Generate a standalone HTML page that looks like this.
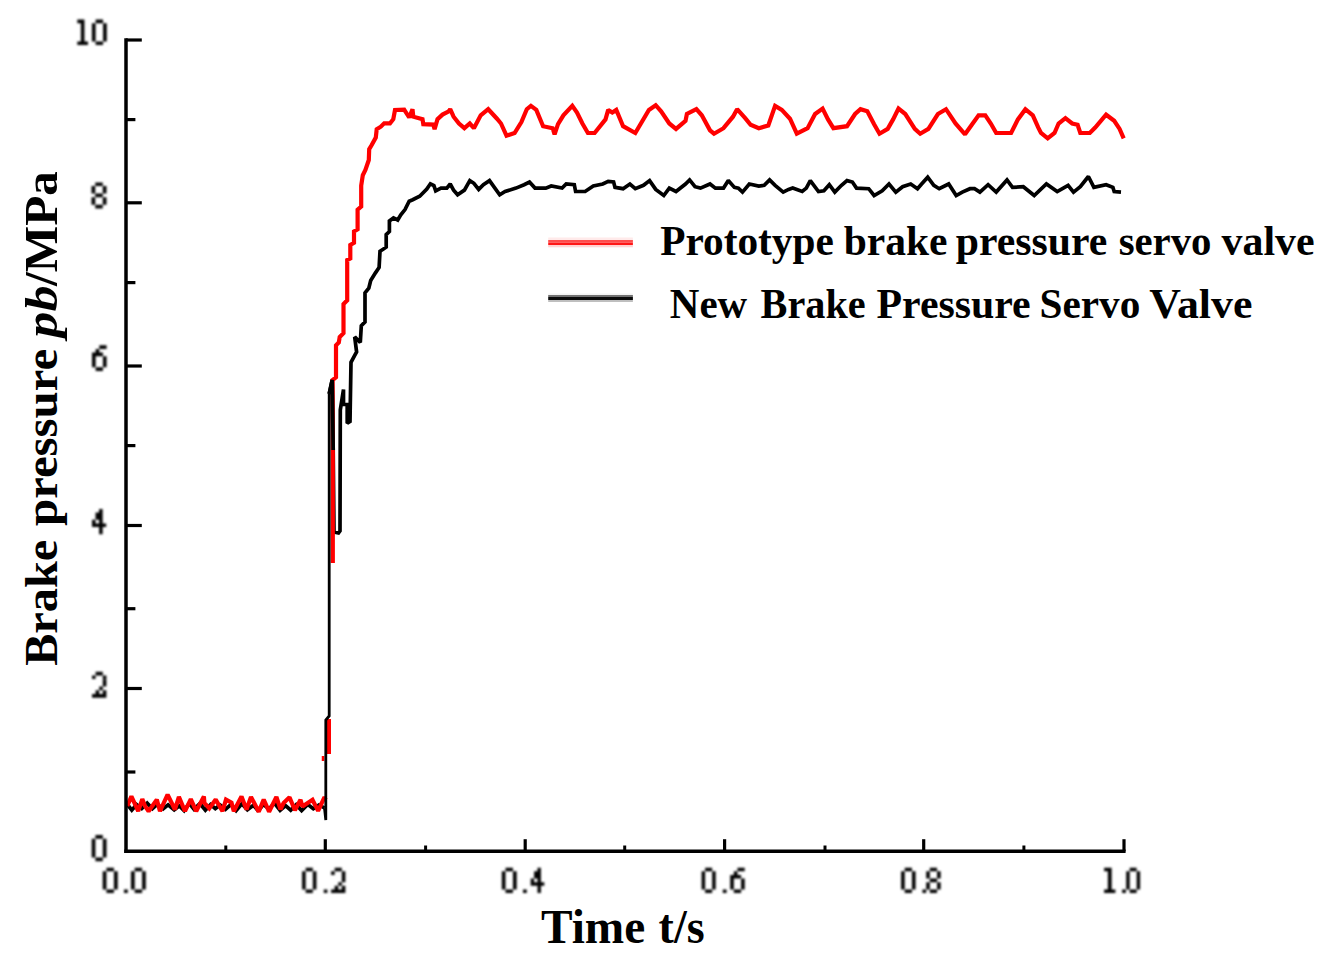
<!DOCTYPE html>
<html><head><meta charset="utf-8"><title>Brake pressure chart</title>
<style>html,body{margin:0;padding:0;background:#fff;overflow:hidden}svg{display:block}text{fill:#000}</style>
</head><body>
<svg width="1327" height="960" viewBox="0 0 1327 960">
<defs><filter id="soft" x="-10%" y="-10%" width="120%" height="120%"><feGaussianBlur stdDeviation="0.85"/></filter></defs>
<rect width="1327" height="960" fill="#fff"/>
<g fill="none" stroke-linejoin="miter" stroke-miterlimit="1.6" stroke-linecap="butt">
<polyline points="127.0,804.0 131.8,810.1 136.6,804.6 141.7,808.6 147.2,803.1 152.4,808.7 157.2,804.3 163.1,808.8 168.1,804.9 174.2,809.9 179.4,805.9 184.1,810.6 189.2,803.4 194.0,809.3 199.9,803.5 205.4,810.1 210.6,804.6 215.3,808.6 220.2,805.0 225.5,809.3 231.0,804.4 236.1,810.5 241.8,803.7 247.4,809.8 253.4,805.2 258.4,811.0 263.2,804.3 269.0,808.9 274.4,803.1 280.1,810.4 285.6,805.6 290.7,810.2 296.2,804.7 301.6,810.6 307.7,804.4 313.3,808.7 319.1,804.9 324.5,808.0" stroke="#000" stroke-width="3.7"/>
<polyline points="329.2,394.0 332.2,380.0 333.2,450.0 334.0,532.0 338.5,533.0 340.0,531.0 340.3,410.0 343.5,389.5 343.5,404.5 347.2,404.5 347.2,423.2 350.0,421.4 351.0,362.3 356.6,351.9 354.7,336.9 360.3,342.5 361.3,325.7 365.0,321.9 365.0,292.8 368.8,288.1 370.7,280.6 375.3,273.1 379.1,267.5 380.0,251.2 383.1,249.2 386.2,247.1 386.2,234.6 389.4,231.5 389.4,221.0 393.5,217.9 397.7,220.0 400.8,214.8 405.0,209.6 409.2,201.2 412.7,199.7 419.7,196.2 426.8,189.1 430.4,183.8 433.9,185.6 435.7,190.9 441.0,188.2 446.8,188.1 450.2,184.0 453.6,190.1 457.6,194.8 464.4,190.1 469.8,180.6 473.9,183.3 478.7,189.4 483.4,184.7 489.5,180.6 499.7,194.8 505.1,191.5 516.0,188.1 524.1,184.7 529.5,182.0 535.0,188.1 545.8,188.1 551.2,186.0 562.1,188.1 566.2,184.0 574.3,184.7 575.6,191.5 585.1,191.5 593.3,186.0 602.8,184.0 608.2,181.3 613.6,182.0 615.0,187.4 623.1,188.7 629.9,184.0 635.3,188.7 643.5,185.3 649.6,180.6 655.7,189.4 663.8,195.5 669.3,188.1 676.0,191.5 685.5,184.0 689.6,179.9 695.0,186.7 700.5,188.1 710.0,184.0 715.4,188.1 723.5,188.1 728.3,180.6 734.4,187.4 738.4,188.1 742.5,192.1 749.3,184.0 758.8,186.0 764.2,185.3 769.6,179.9 775.1,185.3 783.2,192.1 788.6,189.4 792.7,188.0 802.2,191.5 806.3,188.1 810.3,180.6 818.5,191.5 823.9,190.8 829.3,184.7 834.8,192.1 841.5,185.3 847.0,180.6 852.4,182.0 856.5,188.1 868.7,188.7 874.1,195.5 882.2,190.8 889.0,184.0 895.8,192.1 902.6,186.7 910.7,184.0 917.5,188.7 921.6,184.0 927.7,177.2 933.8,185.3 939.2,188.7 948.7,184.0 956.2,195.5 962.3,192.1 970.0,188.7 974.5,188.7 979.9,192.1 988.1,184.7 996.2,192.1 1007.0,179.9 1012.5,187.4 1023.3,186.7 1034.2,195.5 1046.4,184.0 1057.2,191.5 1068.1,185.3 1073.5,192.1 1080.3,186.7 1088.4,176.5 1093.9,187.4 1106.1,184.7 1112.9,187.4 1114.2,191.5 1121.0,192.1" stroke="#000" stroke-width="3.7"/>
<polyline points="127.3,806.0 131.4,796.4 138.2,811.2 142.3,799.1 145.0,806.0 148.6,811.2 156.8,799.6 160.0,811.2 167.6,794.6 174.9,809.5 178.9,796.9 185.0,811.2 190.8,799.1 196.2,811.2 203.9,796.4 204.4,803.0 209.3,808.5 215.7,799.6 222.5,811.2 226.0,799.6 231.5,802.6 233.8,811.2 241.5,796.4 246.5,809.5 251.0,796.9 258.7,811.7 263.7,799.6 269.1,811.7 276.4,796.9 280.5,809.4 283.6,803.0 289.5,797.3 294.9,810.3 300.5,799.7 302.4,806.4 312.5,799.7 318.1,810.9 324.5,797.1 325.6,799.5" stroke="#ff0000" stroke-width="4.2"/>
<polyline points="328.9,754.0 328.9,719.0" stroke="#ff0000" stroke-width="4.2"/>
<polyline points="323.0,756.0 323.0,761.0" stroke="#ff0000" stroke-width="2.5"/>
<polyline points="332.8,563.0 332.8,451.0 332.6,380.0 336.0,377.3 336.0,345.4 338.8,342.5 339.7,337.0 343.5,333.2 343.5,304.1 347.2,300.3 347.2,260.0 350.3,258.5 350.3,245.0 354.0,242.9 354.0,231.5 357.6,229.4 357.6,209.6 361.2,206.5 361.2,185.6 362.8,175.2 365.4,170.0 368.8,160.0 369.2,149.2 371.7,145.0 375.8,137.5 376.7,129.2 380.8,126.7 384.2,123.3 390.0,123.3 393.3,119.2 395.0,110.0 404.2,109.6 409.2,117.5 412.5,109.2 413.3,116.7 422.5,119.2 423.3,124.2 433.3,124.6 434.6,129.2 437.5,119.2 442.5,114.6 448.3,111.7 450.2,109.2 453.6,116.7 459.0,123.5 464.4,128.2 469.8,123.5 473.9,128.2 480.7,115.3 488.2,109.2 497.0,118.7 501.0,123.5 506.5,135.7 514.6,133.0 521.4,122.1 526.8,109.2 530.9,105.9 536.3,109.9 543.1,126.2 552.6,128.2 554.6,134.3 558.0,124.2 563.4,115.3 572.3,105.9 577.0,112.6 582.4,123.5 587.9,133.0 594.6,133.0 605.5,119.4 608.2,109.9 612.3,112.6 616.3,109.9 623.1,126.2 635.3,133.0 648.9,109.9 655.7,105.2 661.1,111.3 669.3,123.5 676.0,128.9 685.5,120.8 686.9,114.0 696.4,109.2 701.8,115.3 710.0,130.3 714.0,133.7 723.5,128.2 733.0,116.7 737.1,109.2 745.2,118.1 750.6,124.8 758.8,128.2 768.3,125.5 775.1,105.9 781.8,109.9 790.0,118.7 796.8,133.7 807.6,128.2 815.1,114.0 822.6,108.6 828.0,119.4 833.4,128.2 847.0,126.2 855.1,114.0 860.5,109.2 867.3,111.3 874.1,124.2 879.5,133.7 887.7,128.9 893.1,119.4 898.5,108.6 905.3,114.0 914.8,128.9 920.2,133.7 928.4,128.9 937.9,114.0 946.0,109.2 955.5,123.5 965.0,134.3 971.8,124.8 978.6,115.3 985.3,115.3 990.8,123.5 996.2,133.0 1011.1,133.0 1017.9,119.4 1025.4,109.2 1032.8,115.3 1038.3,127.6 1041.0,133.0 1047.7,138.4 1054.5,133.0 1058.6,123.5 1065.4,118.1 1072.2,123.5 1077.6,124.8 1080.3,133.0 1089.8,133.0 1095.2,127.6 1106.1,114.7 1114.2,120.8 1119.6,128.9 1123.7,138.4" stroke="#ff0000" stroke-width="4.2"/>
<polyline points="324.5,808.0 325.8,820.0 325.8,720.0 329.2,716.0 329.2,394.0" stroke="#000" stroke-width="2.8"/>
<polyline points="329.2,394.0 332.2,380.0 333.2,450.0" stroke="#000" stroke-width="3.7"/>
</g>
<line x1="126.0" y1="38.3" x2="126.0" y2="853.05" stroke="#000" stroke-width="3.5"/><line x1="124.25" y1="851.3" x2="1125.6" y2="851.3" stroke="#000" stroke-width="3.5"/><line x1="126.0" y1="40.0" x2="141.8" y2="40.0" stroke="#000" stroke-width="3.2"/><line x1="126.0" y1="202.8" x2="141.8" y2="202.8" stroke="#000" stroke-width="3.2"/><line x1="126.0" y1="366.0" x2="141.8" y2="366.0" stroke="#000" stroke-width="3.2"/><line x1="126.0" y1="525.5" x2="141.8" y2="525.5" stroke="#000" stroke-width="3.2"/><line x1="126.0" y1="688.5" x2="141.8" y2="688.5" stroke="#000" stroke-width="3.2"/><line x1="126.0" y1="119.6" x2="135.4" y2="119.6" stroke="#000" stroke-width="3.2"/><line x1="126.0" y1="282.6" x2="135.4" y2="282.6" stroke="#000" stroke-width="3.2"/><line x1="126.0" y1="445.6" x2="135.4" y2="445.6" stroke="#000" stroke-width="3.2"/><line x1="126.0" y1="608.7" x2="135.4" y2="608.7" stroke="#000" stroke-width="3.2"/><line x1="126.0" y1="772.0" x2="135.4" y2="772.0" stroke="#000" stroke-width="3.2"/><line x1="325.3" y1="839.2" x2="325.3" y2="851.3" stroke="#000" stroke-width="3.2"/><line x1="525.2" y1="839.2" x2="525.2" y2="851.3" stroke="#000" stroke-width="3.2"/><line x1="724.6" y1="839.2" x2="724.6" y2="851.3" stroke="#000" stroke-width="3.2"/><line x1="923.7" y1="839.2" x2="923.7" y2="851.3" stroke="#000" stroke-width="3.2"/><line x1="1124.0" y1="839.2" x2="1124.0" y2="851.3" stroke="#000" stroke-width="3.2"/><line x1="225.8" y1="845.5" x2="225.8" y2="851.3" stroke="#000" stroke-width="3"/><line x1="425.6" y1="845.5" x2="425.6" y2="851.3" stroke="#000" stroke-width="3"/><line x1="624.7" y1="845.5" x2="624.7" y2="851.3" stroke="#000" stroke-width="3"/><line x1="825.0" y1="845.5" x2="825.0" y2="851.3" stroke="#000" stroke-width="3"/><line x1="1023.9" y1="845.5" x2="1023.9" y2="851.3" stroke="#000" stroke-width="3"/>
<path fill="#000" filter="url(#soft)" d="M77.30 19.60h7.14v3.64h-7.14zM80.87 23.24h3.57v3.64h-3.57zM80.87 26.89h3.57v3.64h-3.57zM80.87 30.53h3.57v3.64h-3.57zM80.87 34.17h3.57v3.64h-3.57zM80.87 37.81h3.57v3.64h-3.57zM77.30 41.46h10.71v3.64h-10.71zM95.62 19.60h7.44v3.64h-7.44zM91.90 23.24h3.72v3.64h-3.72zM103.06 23.24h3.72v3.64h-3.72zM91.90 26.89h3.72v3.64h-3.72zM103.06 26.89h3.72v3.64h-3.72zM91.90 30.53h3.72v3.64h-3.72zM103.06 30.53h3.72v3.64h-3.72zM91.90 34.17h3.72v3.64h-3.72zM103.06 34.17h3.72v3.64h-3.72zM91.90 37.81h3.72v3.64h-3.72zM103.06 37.81h3.72v3.64h-3.72zM95.62 41.46h7.44v3.64h-7.44zM95.25 182.40h7.50v3.71h-7.50zM91.50 186.11h3.75v3.71h-3.75zM102.75 186.11h3.75v3.71h-3.75zM91.50 189.83h3.75v3.71h-3.75zM102.75 189.83h3.75v3.71h-3.75zM95.25 193.54h7.50v3.71h-7.50zM91.50 197.26h3.75v3.71h-3.75zM102.75 197.26h3.75v3.71h-3.75zM91.50 200.97h3.75v3.71h-3.75zM102.75 200.97h3.75v3.71h-3.75zM95.25 204.68h7.50v3.71h-7.50zM99.30 345.30h7.30v3.66h-7.30zM95.65 348.96h3.65v3.66h-3.65zM92.00 352.61h10.95v3.66h-10.95zM92.00 356.27h3.65v3.66h-3.65zM102.95 356.27h3.65v3.66h-3.65zM92.00 359.93h3.65v3.66h-3.65zM102.95 359.93h3.65v3.66h-3.65zM92.00 363.59h3.65v3.66h-3.65zM102.95 363.59h3.65v3.66h-3.65zM95.65 367.24h7.30v3.66h-7.30zM99.10 509.00h3.55v3.61h-3.55zM95.55 512.61h7.10v3.61h-7.10zM95.55 516.23h7.10v3.61h-7.10zM92.00 519.84h3.55v3.61h-3.55zM99.10 519.84h3.55v3.61h-3.55zM92.00 523.46h14.20v3.61h-14.20zM99.10 527.07h3.55v3.61h-3.55zM99.10 530.68h3.55v3.61h-3.55zM95.60 671.70h7.20v3.71h-7.20zM92.00 675.41h3.60v3.71h-3.60zM102.80 675.41h3.60v3.71h-3.60zM102.80 679.13h3.60v3.71h-3.60zM102.80 682.84h3.60v3.71h-3.60zM99.20 686.56h3.60v3.71h-3.60zM95.60 690.27h3.60v3.71h-3.60zM102.80 690.27h3.60v3.71h-3.60zM92.00 693.98h14.40v3.71h-14.40zM95.40 835.10h7.40v3.73h-7.40zM91.70 838.83h3.70v3.73h-3.70zM102.80 838.83h3.70v3.73h-3.70zM91.70 842.56h3.70v3.73h-3.70zM102.80 842.56h3.70v3.73h-3.70zM91.70 846.29h3.70v3.73h-3.70zM102.80 846.29h3.70v3.73h-3.70zM91.70 850.02h3.70v3.73h-3.70zM102.80 850.02h3.70v3.73h-3.70zM91.70 853.75h3.70v3.73h-3.70zM102.80 853.75h3.70v3.73h-3.70zM95.40 857.47h7.40v3.73h-7.40zM106.45 867.70h7.50v3.63h-7.50zM102.70 871.33h3.75v3.63h-3.75zM113.95 871.33h3.75v3.63h-3.75zM102.70 874.96h3.75v3.63h-3.75zM113.95 874.96h3.75v3.63h-3.75zM102.70 878.59h3.75v3.63h-3.75zM113.95 878.59h3.75v3.63h-3.75zM102.70 882.22h3.75v3.63h-3.75zM113.95 882.22h3.75v3.63h-3.75zM102.70 885.85h3.75v3.63h-3.75zM113.95 885.85h3.75v3.63h-3.75zM106.45 889.48h7.50v3.63h-7.50zM124.00 889.48h3.80v3.63h-3.80zM134.70 867.70h7.40v3.63h-7.40zM131.00 871.33h3.70v3.63h-3.70zM142.10 871.33h3.70v3.63h-3.70zM131.00 874.96h3.70v3.63h-3.70zM142.10 874.96h3.70v3.63h-3.70zM131.00 878.59h3.70v3.63h-3.70zM142.10 878.59h3.70v3.63h-3.70zM131.00 882.22h3.70v3.63h-3.70zM142.10 882.22h3.70v3.63h-3.70zM131.00 885.85h3.70v3.63h-3.70zM142.10 885.85h3.70v3.63h-3.70zM134.70 889.48h7.40v3.63h-7.40zM305.68 867.70h7.16v3.63h-7.16zM302.10 871.33h3.58v3.63h-3.58zM312.84 871.33h3.58v3.63h-3.58zM302.10 874.96h3.58v3.63h-3.58zM312.84 874.96h3.58v3.63h-3.58zM302.10 878.59h3.58v3.63h-3.58zM312.84 878.59h3.58v3.63h-3.58zM302.10 882.22h3.58v3.63h-3.58zM312.84 882.22h3.58v3.63h-3.58zM302.10 885.85h3.58v3.63h-3.58zM312.84 885.85h3.58v3.63h-3.58zM305.68 889.48h7.16v3.63h-7.16zM323.80 889.48h3.60v3.63h-3.60zM334.67 867.70h7.14v3.63h-7.14zM331.10 871.33h3.57v3.63h-3.57zM341.81 871.33h3.57v3.63h-3.57zM341.81 874.96h3.57v3.63h-3.57zM341.81 878.59h3.57v3.63h-3.57zM338.24 882.22h3.57v3.63h-3.57zM334.67 885.85h3.57v3.63h-3.57zM341.81 885.85h3.57v3.63h-3.57zM331.10 889.48h14.28v3.63h-14.28zM505.52 867.70h7.44v3.63h-7.44zM501.80 871.33h3.72v3.63h-3.72zM512.96 871.33h3.72v3.63h-3.72zM501.80 874.96h3.72v3.63h-3.72zM512.96 874.96h3.72v3.63h-3.72zM501.80 878.59h3.72v3.63h-3.72zM512.96 878.59h3.72v3.63h-3.72zM501.80 882.22h3.72v3.63h-3.72zM512.96 882.22h3.72v3.63h-3.72zM501.80 885.85h3.72v3.63h-3.72zM512.96 885.85h3.72v3.63h-3.72zM505.52 889.48h7.44v3.63h-7.44zM523.00 889.48h3.80v3.63h-3.80zM537.50 867.70h3.40v3.63h-3.40zM534.10 871.33h6.80v3.63h-6.80zM534.10 874.96h6.80v3.63h-6.80zM530.70 878.59h3.40v3.63h-3.40zM537.50 878.59h3.40v3.63h-3.40zM530.70 882.22h13.60v3.63h-13.60zM537.50 885.85h3.40v3.63h-3.40zM537.50 889.48h3.40v3.63h-3.40zM705.12 867.70h7.04v3.63h-7.04zM701.60 871.33h3.52v3.63h-3.52zM712.16 871.33h3.52v3.63h-3.52zM701.60 874.96h3.52v3.63h-3.52zM712.16 874.96h3.52v3.63h-3.52zM701.60 878.59h3.52v3.63h-3.52zM712.16 878.59h3.52v3.63h-3.52zM701.60 882.22h3.52v3.63h-3.52zM712.16 882.22h3.52v3.63h-3.52zM701.60 885.85h3.52v3.63h-3.52zM712.16 885.85h3.52v3.63h-3.52zM705.12 889.48h7.04v3.63h-7.04zM722.80 889.48h3.80v3.63h-3.80zM737.46 867.70h7.26v3.63h-7.26zM733.83 871.33h3.63v3.63h-3.63zM730.20 874.96h10.89v3.63h-10.89zM730.20 878.59h3.63v3.63h-3.63zM741.09 878.59h3.63v3.63h-3.63zM730.20 882.22h3.63v3.63h-3.63zM741.09 882.22h3.63v3.63h-3.63zM730.20 885.85h3.63v3.63h-3.63zM741.09 885.85h3.63v3.63h-3.63zM733.83 889.48h7.26v3.63h-7.26zM904.72 867.70h7.24v3.63h-7.24zM901.10 871.33h3.62v3.63h-3.62zM911.96 871.33h3.62v3.63h-3.62zM901.10 874.96h3.62v3.63h-3.62zM911.96 874.96h3.62v3.63h-3.62zM901.10 878.59h3.62v3.63h-3.62zM911.96 878.59h3.62v3.63h-3.62zM901.10 882.22h3.62v3.63h-3.62zM911.96 882.22h3.62v3.63h-3.62zM901.10 885.85h3.62v3.63h-3.62zM911.96 885.85h3.62v3.63h-3.62zM904.72 889.48h7.24v3.63h-7.24zM922.40 889.48h3.80v3.63h-3.80zM929.82 867.70h7.24v3.63h-7.24zM926.20 871.33h3.62v3.63h-3.62zM937.06 871.33h3.62v3.63h-3.62zM926.20 874.96h3.62v3.63h-3.62zM937.06 874.96h3.62v3.63h-3.62zM929.82 878.59h7.24v3.63h-7.24zM926.20 882.22h3.62v3.63h-3.62zM937.06 882.22h3.62v3.63h-3.62zM926.20 885.85h3.62v3.63h-3.62zM937.06 885.85h3.62v3.63h-3.62zM929.82 889.48h7.24v3.63h-7.24zM1104.10 867.70h7.54v3.63h-7.54zM1107.87 871.33h3.77v3.63h-3.77zM1107.87 874.96h3.77v3.63h-3.77zM1107.87 878.59h3.77v3.63h-3.77zM1107.87 882.22h3.77v3.63h-3.77zM1107.87 885.85h3.77v3.63h-3.77zM1104.10 889.48h11.31v3.63h-11.31zM1122.10 889.48h3.80v3.63h-3.80zM1129.68 867.70h6.96v3.63h-6.96zM1126.20 871.33h3.48v3.63h-3.48zM1136.64 871.33h3.48v3.63h-3.48zM1126.20 874.96h3.48v3.63h-3.48zM1136.64 874.96h3.48v3.63h-3.48zM1126.20 878.59h3.48v3.63h-3.48zM1136.64 878.59h3.48v3.63h-3.48zM1126.20 882.22h3.48v3.63h-3.48zM1136.64 882.22h3.48v3.63h-3.48zM1126.20 885.85h3.48v3.63h-3.48zM1136.64 885.85h3.48v3.63h-3.48zM1129.68 889.48h6.96v3.63h-6.96z"/>
<text x="660.16" y="255.0" font-family="Liberation Serif" font-weight="bold" font-size="42" textLength="173.67" lengthAdjust="spacingAndGlyphs">Prototype</text><text x="843.63" y="255.0" font-family="Liberation Serif" font-weight="bold" font-size="42" textLength="103.86" lengthAdjust="spacingAndGlyphs">brake</text><text x="955.86" y="255.0" font-family="Liberation Serif" font-weight="bold" font-size="42" textLength="151.48" lengthAdjust="spacingAndGlyphs">pressure</text><text x="1118.67" y="255.0" font-family="Liberation Serif" font-weight="bold" font-size="42" textLength="92.81" lengthAdjust="spacingAndGlyphs">servo</text><text x="1221.49" y="255.0" font-family="Liberation Serif" font-weight="bold" font-size="42" textLength="93.08" lengthAdjust="spacingAndGlyphs">valve</text><text x="669.84" y="318.3" font-family="Liberation Serif" font-weight="bold" font-size="42" textLength="77.40" lengthAdjust="spacingAndGlyphs">New</text><text x="760.55" y="318.3" font-family="Liberation Serif" font-weight="bold" font-size="42" textLength="105.10" lengthAdjust="spacingAndGlyphs">Brake</text><text x="876.59" y="318.3" font-family="Liberation Serif" font-weight="bold" font-size="42" textLength="154.09" lengthAdjust="spacingAndGlyphs">Pressure</text><text x="1039.55" y="318.3" font-family="Liberation Serif" font-weight="bold" font-size="42" textLength="100.77" lengthAdjust="spacingAndGlyphs">Servo</text><text x="1149.26" y="318.3" font-family="Liberation Serif" font-weight="bold" font-size="42" textLength="103.11" lengthAdjust="spacingAndGlyphs">Valve</text><text x="541.02" y="943.0" font-family="Liberation Serif" font-weight="bold" font-size="48" textLength="104.25" lengthAdjust="spacingAndGlyphs">Time</text><text x="658.62" y="943.0" font-family="Liberation Serif" font-weight="bold" font-size="48" textLength="45.93" lengthAdjust="spacingAndGlyphs">t/s</text><text transform="translate(57.2,665.85) rotate(-90)" x="0" y="0" font-family="Liberation Serif" font-weight="bold" font-size="47" textLength="126.09" lengthAdjust="spacingAndGlyphs">Brake</text><text transform="translate(57.2,525.94) rotate(-90)" x="0" y="0" font-family="Liberation Serif" font-weight="bold" font-size="47" textLength="177.09" lengthAdjust="spacingAndGlyphs">pressure</text><text transform="translate(57.2,337.63) rotate(-90)" x="0" y="0" font-family="Liberation Serif" font-weight="bold" font-style="italic" font-size="47" textLength="52.34" lengthAdjust="spacingAndGlyphs">pb</text><text transform="translate(57.2,285.94) rotate(-90)" x="0" y="0" font-family="Liberation Serif" font-weight="bold" font-size="47" textLength="114.87" lengthAdjust="spacingAndGlyphs">/MPa</text>
<rect x="548.2" y="237.5" width="84.7" height="2.50" fill="#ffeaea"/><rect x="548.2" y="240.0" width="84.7" height="2.60" fill="#ff4d4d"/><rect x="548.2" y="242.6" width="84.7" height="2.40" fill="#ff1717"/><rect x="548.2" y="245.0" width="84.7" height="2.30" fill="#ffd3d3"/><rect x="548.2" y="293.5" width="84.7" height="1.50" fill="#f4f4f4"/><rect x="548.2" y="295.0" width="84.7" height="1.80" fill="#737373"/><rect x="548.2" y="296.8" width="84.7" height="3.20" fill="#0a0a0a"/><rect x="548.2" y="300.0" width="84.7" height="2.00" fill="#bfbfbf"/>
</svg>
</body></html>
